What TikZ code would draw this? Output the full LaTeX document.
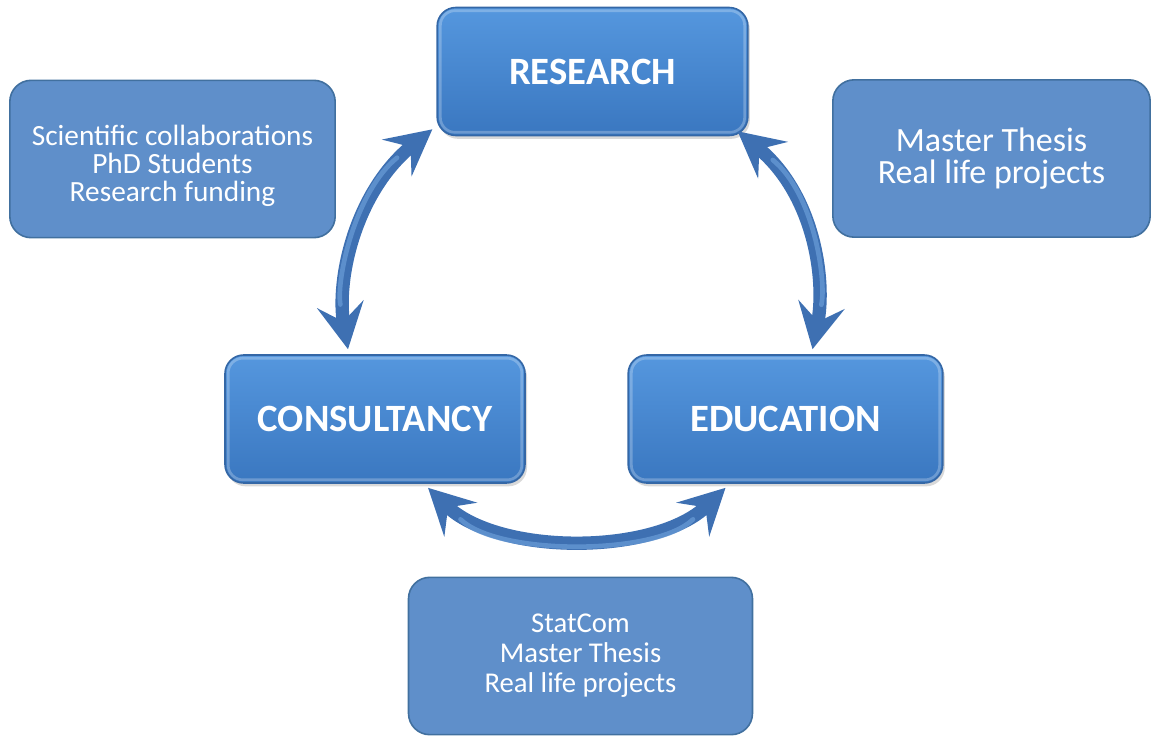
\documentclass[tikz,border=0pt]{standalone}
\usepackage{fontspec}
\setmainfont{Carlito}
\usetikzlibrary{arrows.meta,shadows,calc}

\definecolor{boxtop}{HTML}{5597DE}
\definecolor{boxbot}{HTML}{3A77C0}
\definecolor{boxedge}{HTML}{3467A6}
\definecolor{notefill}{HTML}{5F8FCA}
\definecolor{noteedge}{HTML}{41709F}
\definecolor{arrowdark}{HTML}{3E70B2}
\definecolor{arrowlight}{HTML}{6A9DD8}

\tikzset{
  mainbox/.style={rounded corners=14pt, draw=boxedge, line width=1.2pt,
    top color=boxtop, bottom color=boxbot, text=white,
    minimum height=96pt, inner sep=0pt,
    font=\bfseries\fontsize{29}{34}\selectfont,
    drop shadow={shadow xshift=1.5pt, shadow yshift=-2.5pt, opacity=0.3}},
  notebox/.style={rounded corners=16pt, draw=noteedge, line width=1.2pt,
    fill=notefill, text=white, align=center, inner sep=0pt,
    minimum height=118pt},
  bevel/.style={draw=white, opacity=0.25, line width=2pt, rounded corners=11pt},
  cyclearrow/.style={draw=arrowdark, line width=10pt,
    {Stealth[length=34pt,width=35pt,inset=13pt]}-{Stealth[length=34pt,width=35pt,inset=13pt]}},
  shaftlight/.style={draw=arrowlight, line width=3.5pt, opacity=0.7,
    shorten <=34pt, shorten >=34pt, line cap=round}
}

\begin{document}
\begin{tikzpicture}[x=0.75pt, y=-0.75pt]
  \useasboundingbox (0,0) rectangle (1152,735);

  % the three activity blocks
  \node[mainbox, minimum width=233pt] (res)  at (592.5,71.5) {RESEARCH};
  \node[mainbox, minimum width=225pt] (cons) at (375,419)   {CONSULTANCY};
  \node[mainbox, minimum width=236pt] (edu)  at (785.5,419) {EDUCATION};

  \foreach \b in {res,cons,edu}
    \draw[bevel] ($(\b.north west)+(4,4)$) rectangle ($(\b.south east)+(-4,-4)$);

  % side notes
  \node[notebox, minimum width=244pt] (noteres) at (172.5,159) {};
  \node[text=white, align=center, font=\fontsize{22}{21}\selectfont]
    (noterestext) at ($(noteres.center)+(0,7)$)
    {Scientific collaborations\\PhD Students\\Research funding};
  \node[notebox, minimum width=238pt,
        font=\fontsize{25.5}{24}\selectfont] (noteedu) at (991.5,158.5)
    {Master Thesis\\Real life projects};
  \node[notebox, minimum width=258pt,
        font=\fontsize{21.5}{22.5}\selectfont] (notecons) at (580.5,656)
    {StatCom\\Master Thesis\\Real life projects};

  % curved two-way arrows between the blocks
  \coordinate (a1) at ($(cons.north)+(-27,-5)$);
  \coordinate (a2) at ($(res.south west)+(-4,-7)$);
  \coordinate (b1) at ($(edu.north)+(27,-5)$);
  \coordinate (b2) at ($(res.south east)+(-11,-5)$);
  \coordinate (c1) at ($(cons.south)+(53,4)$);
  \coordinate (c2) at ($(edu.south)+(-60,4)$);

  \path[cyclearrow] (a1) .. controls +(-12,-70) and +(-77,62) .. (a2);
  \path[shaftlight] (a1) .. controls +(-12,-70) and +(-77,62) .. (a2);

  \path[cyclearrow] (b1) .. controls +(14,-70) and +(76,62) .. (b2);
  \path[shaftlight] (b1) .. controls +(14,-70) and +(76,62) .. (b2);

  \path[cyclearrow] (c1) .. controls +(70,68) and +(-70,68) .. (c2);
  \path[shaftlight] (c1) .. controls +(70,68) and +(-70,68) .. (c2);
\end{tikzpicture}
\end{document}
